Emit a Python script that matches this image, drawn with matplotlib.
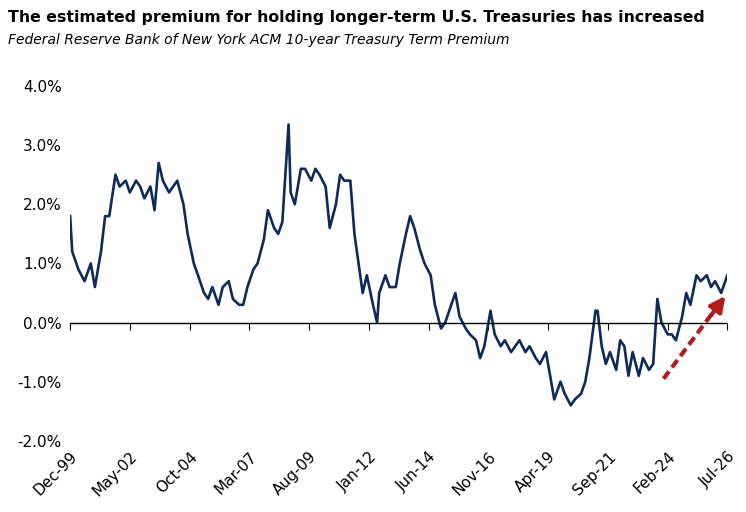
import matplotlib
matplotlib.use("Agg")
import matplotlib.pyplot as plt
import pandas as pd

months = [0,1,4,7,10,12,15,17,19,22,24,27,29,32,34,36,39,41,43,45,48,50,52,55,57,60,62,65,67,69,72,74,77,79,82,84,86,89,91,94,96,99,101,103,106,107,109,112,114,117,119,121,124,126,129,131,133,136,138,140,142,144,147,149,150,153,155,158,160,163,165,167,170,172,175,177,180,182,184,187,189,192,194,197,199,201,204,206,209,211,214,216,218,221,223,226,228,231,233,235,238,240,243,245,248,250,252,255,256,258,260,262,265,267,269,271,273,276,278,281,283,285,287,290,292,294,297,299,301,304,306,309,311,313,316,319]
values = [1.8,1.2,0.9,0.7,1.0,0.6,1.2,1.8,1.8,2.5,2.3,2.4,2.2,2.4,2.3,2.1,2.3,1.9,2.7,2.4,2.2,2.3,2.4,2.0,1.5,1.0,0.8,0.5,0.4,0.6,0.3,0.6,0.7,0.4,0.3,0.3,0.6,0.9,1.0,1.4,1.9,1.6,1.5,1.7,3.35,2.2,2.0,2.6,2.6,2.4,2.6,2.5,2.3,1.6,2.0,2.5,2.4,2.4,1.5,1.0,0.5,0.8,0.3,0.0,0.5,0.8,0.6,0.6,1.0,1.5,1.8,1.6,1.2,1.0,0.8,0.3,-0.1,0.0,0.2,0.5,0.1,-0.1,-0.2,-0.3,-0.6,-0.4,0.2,-0.2,-0.4,-0.3,-0.5,-0.4,-0.3,-0.5,-0.4,-0.6,-0.7,-0.5,-0.9,-1.3,-1.0,-1.2,-1.4,-1.3,-1.2,-1.0,-0.6,0.2,0.2,-0.4,-0.7,-0.5,-0.8,-0.3,-0.4,-0.9,-0.5,-0.9,-0.6,-0.8,-0.7,0.4,0.0,-0.2,-0.2,-0.3,0.1,0.5,0.3,0.8,0.7,0.8,0.6,0.7,0.5,0.8]
start = pd.Timestamp("1999-12-01")
dates = [start + pd.DateOffset(months=m) for m in months]
tick_dates = [start + pd.DateOffset(months=29*i) for i in range(12)]
tick_labels = [d.strftime("%b-%y") for d in tick_dates]
yticks = [-2,-1,0,1,2,3,4]

fig = plt.figure(figsize=(7.46,5.12), dpi=100)
ax = fig.add_axes([0.094,0.139,0.881,0.693])
ax.plot(dates, values, color="#0d2a5c", lw=1.9)
ax.set_xlim(tick_dates[0], tick_dates[-1])
ax.set_ylim(-2,4)
ax.set_yticks(yticks)
ax.set_yticklabels([f"{v:.1f}%" for v in yticks], fontsize=11)
ax.set_xticks(tick_dates)
ax.set_xticklabels(tick_labels, rotation=45, ha="right", rotation_mode="anchor", fontsize=11)
ax.tick_params(axis="both", length=0, pad=6)
for s in ax.spines.values():
    s.set_visible(False)
ax.axhline(0, color="black", lw=1)
sec = ax.secondary_xaxis(1/3)
sec.set_xticks(tick_dates)
sec.set_xticklabels([])
sec.tick_params(direction="out", length=5, color="black")
sec.spines["bottom"].set_visible(False)
sec.spines["top"].set_visible(False)
a0, a1 = pd.Timestamp("2023-12-01"), pd.Timestamp("2026-01-01")
ax.plot([a0, a1], [-0.95, 0.22], color="#b01c1c", lw=3, linestyle=(0, (2.2, 1.2)))
ax.annotate("", xy=(pd.Timestamp("2026-06-01"), 0.45), xytext=(pd.Timestamp("2025-11-01"), 0.12),
            arrowprops=dict(arrowstyle="-|>,head_width=0.45,head_length=0.9", color="#b01c1c", lw=3,
                            shrinkA=0, shrinkB=0))
fig.text(0.011, 0.965, "The estimated premium for holding longer-term U.S. Treasuries has increased",
         fontsize=11.3, fontweight="bold", va="center")
fig.text(0.011, 0.922, "Federal Reserve Bank of New York ACM 10-year Treasury Term Premium",
         fontsize=10, style="italic", va="center")
fig.savefig("out.png", dpi=100)
